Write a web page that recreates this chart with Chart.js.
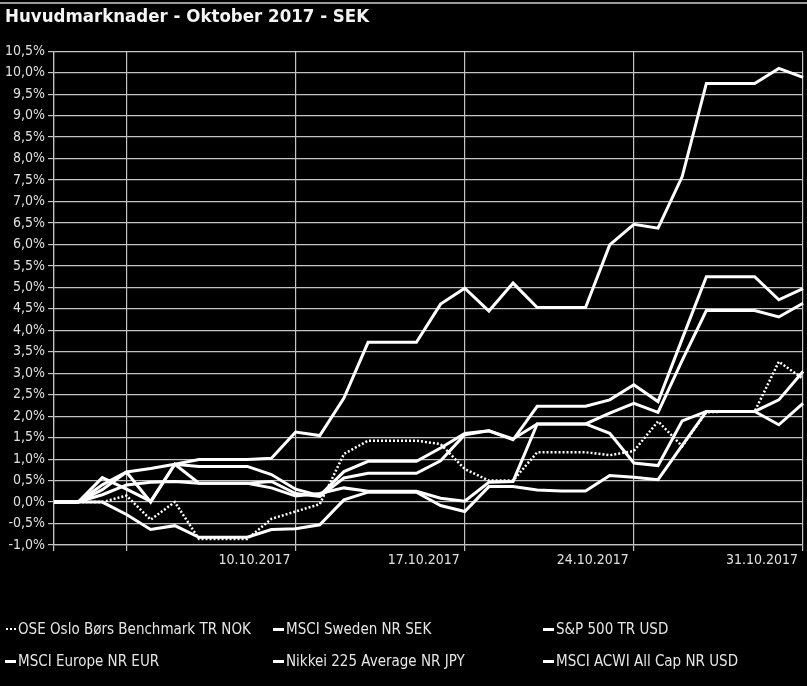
<!DOCTYPE html>
<html>
<head>
<meta charset="utf-8">
<title>Huvudmarknader - Oktober 2017 - SEK</title>
<script src="https://cdn.jsdelivr.net/npm/chart.js@4.4.1/dist/chart.umd.min.js"></script>
<style>
  body { margin: 0; background: #000; }
  #wrap { position: relative; width: 807px; height: 686px; background: #000; overflow: hidden; }
  #topline { position: absolute; left: 0; top: 2px; width: 807px; height: 2px; background: #9a9a9a; }
  #box { position: absolute; left: 0; top: 0; width: 807px; height: 600px; }
  #legend { position: absolute; left: 0; top: 0; width: 807px; height: 686px; pointer-events: none; }
  .item { position: absolute; height: 20px; display: flex; align-items: center; color: #e6e6e6;
          font-family: 'DejaVu Sans Condensed', 'DejaVu Sans', sans-serif; font-size: 15px; white-space: nowrap; }
  .sample { width: 11px; margin-right: 2px; border-top: 3px solid #fff; }
  .sample.dot { width: 10px; margin-left: 1px; border-top: 2px dotted #fff; }
</style>
</head>
<body>
<div id="wrap">
  <div id="topline"></div>
  <div id="box"><canvas id="chart" width="807" height="600"></canvas></div>
  <div id="legend"></div>
</div>
<script>
'use strict';

// 30.09.2017 - 31.10.2017, calendar days
let dates = ['30.09.2017', '01.10.2017', '02.10.2017', '03.10.2017', '04.10.2017', '05.10.2017',
  '06.10.2017', '07.10.2017', '08.10.2017', '09.10.2017', '10.10.2017', '11.10.2017',
  '12.10.2017', '13.10.2017', '14.10.2017', '15.10.2017', '16.10.2017', '17.10.2017',
  '18.10.2017', '19.10.2017', '20.10.2017', '21.10.2017', '22.10.2017', '23.10.2017',
  '24.10.2017', '25.10.2017', '26.10.2017', '27.10.2017', '28.10.2017', '29.10.2017',
  '30.10.2017', '31.10.2017'];

let shownDates = ['10.10.2017', '17.10.2017', '24.10.2017', '31.10.2017'];
let gridDates = ['30.09.2017', '03.10.2017', '10.10.2017', '17.10.2017', '24.10.2017', '31.10.2017'];

let seriesNames = ['OSE Oslo Børs Benchmark TR NOK', 'MSCI Sweden NR SEK', 'S&P 500 TR USD',
  'MSCI Europe NR EUR', 'Nikkei 225 Average NR JPY', 'MSCI ACWI All Cap NR USD'];

// values in %
let oseOslo = [0, 0, 0, 0.15, -0.41, 0.0, -0.86, -0.86, -0.86, -0.39, -0.22, -0.05,
  1.12, 1.43, 1.43, 1.43, 1.35, 0.77, 0.50, 0.50, 1.16, 1.16, 1.16, 1.09,
  1.19, 1.88, 1.30, 2.09, 2.11, 2.11, 3.27, 2.87];
let msciSweden = [0, 0, 0, -0.29, -0.64, -0.55, -0.82, -0.82, -0.82, -0.64, -0.62, -0.53,
  0.05, 0.23, 0.23, 0.23, -0.08, -0.22, 0.36, 0.36, 0.28, 0.26, 0.26, 0.62,
  0.58, 0.52, 1.32, 2.11, 2.11, 2.11, 1.80, 2.30];
let sp500 = [0, 0, 0.29, 0.70, 0.0, 0.88, 0.83, 0.83, 0.83, 0.64, 0.30, 0.15,
  0.71, 0.95, 0.95, 0.95, 1.26, 1.60, 1.66, 1.45, 2.23, 2.23, 2.23, 2.38,
  2.73, 2.34, 3.80, 5.25, 5.25, 5.25, 4.71, 4.97];
let msciEurope = [0, 0, 0.57, 0.30, 0.02, 0.88, 0.44, 0.44, 0.44, 0.33, 0.14, 0.20,
  0.33, 0.25, 0.25, 0.25, 0.09, 0.02, 0.46, 0.48, 1.82, 1.82, 1.82, 1.60,
  0.91, 0.85, 1.89, 2.11, 2.11, 2.11, 2.38, 3.04];
let nikkei = [0, 0, 0.40, 0.70, 0.78, 0.88, 0.99, 0.99, 0.99, 1.02, 1.63, 1.55,
  2.42, 3.72, 3.72, 3.72, 4.61, 4.98, 4.45, 5.10, 4.53, 4.53, 4.53, 5.99,
  6.47, 6.38, 7.58, 9.75, 9.75, 9.75, 10.10, 9.89];
let msciAcwi = [0, 0, 0.17, 0.40, 0.46, 0.48, 0.44, 0.44, 0.44, 0.48, 0.20, 0.13,
  0.56, 0.67, 0.67, 0.67, 0.96, 1.57, 1.66, 1.47, 1.82, 1.82, 1.82, 2.07,
  2.30, 2.09, 3.30, 4.46, 4.46, 4.46, 4.31, 4.63];

let allValues = [oseOslo, msciSweden, sp500, msciEurope, nikkei, msciAcwi];

let fontFamily = "'DejaVu Sans Condensed', 'DejaVu Sans', sans-serif";
let gridGray = '#c4c4c4';

let datasets = [];
for (let i = 0; i < seriesNames.length; i++) {
  datasets.push({
    label: seriesNames[i],
    data: allValues[i],
    borderColor: '#ffffff',
    backgroundColor: '#ffffff',
    borderWidth: i === 0 ? 2.5 : 3,
    borderDash: i === 0 ? [2, 2] : [],
    pointRadius: 0,
    tension: 0,
    fill: false
  });
}

let config = {
  type: 'line',
  data: { labels: dates, datasets: datasets },
  options: {
    responsive: false,
    animation: false,
    layout: { padding: { left: 5, right: 4, top: 0, bottom: 23 } },
    plugins: {
      legend: { display: false },
      tooltip: { enabled: false },
      title: {
        display: true,
        text: 'Huvudmarknader - Oktober 2017 - SEK',
        align: 'start',
        color: '#f4f4f4',
        font: { family: fontFamily, size: 18.5, weight: 'bold', lineHeight: 1.2 },
        padding: { top: 6, bottom: 23 }
      }
    },
    scales: {
      x: {
        offset: false,
        afterFit: function (scale) { scale.height = 32; },
        border: { color: gridGray, width: 1.2 },
        grid: {
          color: function (ctx) {
            return gridDates.includes(dates[ctx.index]) ? gridGray : 'rgba(0,0,0,0)';
          },
          lineWidth: 1.2,
          tickLength: 6
        },
        ticks: {
          autoSkip: false,
          maxRotation: 0,
          align: 'end',
          labelOffset: -5,
          padding: 1,
          color: '#e0e0e0',
          font: { family: fontFamily, size: 14 },
          callback: function (value, index) {
            return shownDates.includes(dates[index]) ? dates[index] : '';
          }
        }
      },
      y: {
        min: -1,
        max: 10.5,
        afterFit: function (scale) { scale.width = 49; },
        border: { color: gridGray, width: 1.2 },
        grid: { color: gridGray, lineWidth: 1.2, tickLength: 6 },
        ticks: {
          stepSize: 0.5,
          padding: 3,
          color: '#e0e0e0',
          font: { family: fontFamily, size: 14 },
          callback: function (v) { return v.toFixed(1).replace('.', ',') + '%'; }
        }
      }
    }
  }
};

let chart = new Chart(document.getElementById('chart'), config);

// legend in three columns, built from the datasets
let legendElem = document.getElementById('legend');
let colX = [5, 273, 543];
let rowY = [619, 651];
chart.data.datasets.forEach(function (ds, i) {
  let item = document.createElement('div');
  item.className = 'item';
  item.style.left = colX[i % 3] + 'px';
  item.style.top = rowY[Math.floor(i / 3)] + 'px';
  let sample = document.createElement('span');
  sample.className = ds.borderDash.length ? 'sample dot' : 'sample';
  let text = document.createElement('span');
  text.textContent = ds.label;
  item.appendChild(sample);
  item.appendChild(text);
  legendElem.appendChild(item);
});
</script>
</body>
</html>
